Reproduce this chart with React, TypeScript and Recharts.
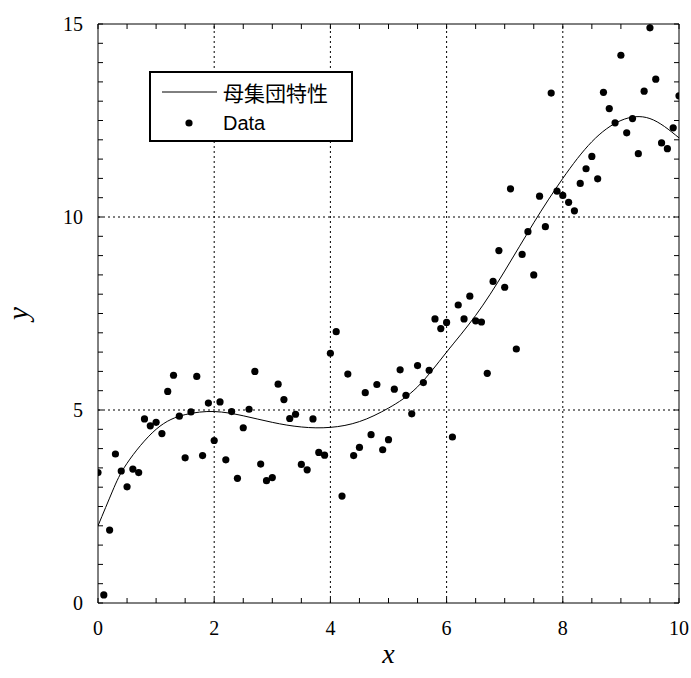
import React from 'react';
import { ComposedChart, XAxis, YAxis, Line, Scatter, ReferenceLine, Legend } from 'recharts';

const sampleX = [
  0, 0.1, 0.2, 0.3, 0.4, 0.5, 0.6, 0.7, 0.8, 0.9,
  1, 1.1, 1.2, 1.3, 1.4, 1.5, 1.6, 1.7, 1.8, 1.9,
  2, 2.1, 2.2, 2.3, 2.4, 2.5, 2.6, 2.7, 2.8, 2.9,
  3, 3.1, 3.2, 3.3, 3.4, 3.5, 3.6, 3.7, 3.8, 3.9,
  4, 4.1, 4.2, 4.3, 4.4, 4.5, 4.6, 4.7, 4.8, 4.9,
  5, 5.1, 5.2, 5.3, 5.4, 5.5, 5.6, 5.7, 5.8, 5.9,
  6, 6.1, 6.2, 6.3, 6.4, 6.5, 6.6, 6.7, 6.8, 6.9,
  7, 7.1, 7.2, 7.3, 7.4, 7.5, 7.6, 7.7, 7.8, 7.9,
  8, 8.1, 8.2, 8.3, 8.4, 8.5, 8.6, 8.7, 8.8, 8.9,
  9, 9.1, 9.2, 9.3, 9.4, 9.5, 9.6, 9.7, 9.8, 9.9,
  10,
];

const sampleY = [
  3.38, 0.21, 1.89, 3.86, 3.42, 3.01, 3.47, 3.38, 4.77, 4.59,
  4.68, 4.39, 5.48, 5.9, 4.84, 3.76, 4.95, 5.87, 3.82, 5.18,
  4.21, 5.21, 3.71, 4.96, 3.23, 4.54, 5.02, 6.0, 3.6, 3.17,
  3.25, 5.67, 5.27, 4.78, 4.89, 3.59, 3.45, 4.77, 3.9, 3.83,
  6.47, 7.03, 2.77, 5.93, 3.82, 4.03, 5.45, 4.36, 5.66, 3.97,
  4.23, 5.54, 6.04, 5.38, 4.9, 6.15, 5.71, 6.03, 7.36, 7.11,
  7.27, 4.3, 7.72, 7.36, 7.95, 7.31, 7.28, 5.95, 8.33, 9.13,
  8.18, 10.73, 6.58, 9.03, 9.62, 8.5, 10.54, 9.75, 13.21, 10.67,
  10.56, 10.38, 10.16, 10.87, 11.25, 11.57, 10.99, 13.23, 12.81, 12.44,
  14.19, 12.18, 12.55, 11.64, 13.26, 14.9, 13.57, 11.92, 11.77, 12.31,
  13.14,
];

const curveX = [0, 0.25, 0.5, 1, 1.5, 2, 2.5, 3, 3.5, 4, 4.5, 5, 5.5, 6, 6.5, 7, 7.5, 8, 8.5, 9, 9.5, 10];
const curveY = [2.0, 2.9, 3.62, 4.5, 4.88, 4.96, 4.85, 4.68, 4.56, 4.55, 4.7, 5.05, 5.6, 6.5, 7.45, 8.6, 9.85, 11.0, 11.95, 12.5, 12.55, 12.05];

const xTicks = [0, 0.5, 1, 1.5, 2, 2.5, 3, 3.5, 4, 4.5, 5, 5.5, 6, 6.5, 7, 7.5, 8, 8.5, 9, 9.5, 10];
const yTicks = [0, 0.5, 1, 1.5, 2, 2.5, 3, 3.5, 4, 4.5, 5, 5.5, 6, 6.5, 7, 7.5, 8, 8.5, 9, 9.5, 10,
  10.5, 11, 11.5, 12, 12.5, 13, 13.5, 14, 14.5, 15];
const xLabelTicks = [0, 2, 4, 6, 8, 10];
const yLabelTicks = [0, 5, 10, 15];
const xGrid = [2, 4, 6, 8];
const yGrid = [5, 10];
const curveName = '母集団特性';
const dataName = 'Data';
const xTitle = 'x';
const yTitle = 'y';

const points = sampleX.map((x, i) => ({ x, y: sampleY[i] }));
const curve = curveX.map((x, i) => ({ x, y: curveY[i] }));

const SERIF = '"Liberation Serif", "Times New Roman", serif';
const TL = 5;

const BottomTick = (p: any) => {
  const { x, y, payload } = p;
  const v = payload.value;
  return (
    <g>
      <line x1={x} y1={y} x2={x} y2={y - TL} stroke="#000" strokeWidth={1} />
      {xLabelTicks.includes(v) && (
        <text x={x} y={y + 32} textAnchor="middle" fontFamily={SERIF} fontSize={20} fill="#000">{v}</text>
      )}
    </g>
  );
};

const TopTick = (p: any) => {
  const { x, y } = p;
  return <line x1={x} y1={y} x2={x} y2={y + TL} stroke="#000" strokeWidth={1} />;
};

const LeftTick = (p: any) => {
  const { x, y, payload } = p;
  const v = payload.value;
  return (
    <g>
      <line x1={x} y1={y} x2={x + TL} y2={y} stroke="#000" strokeWidth={1} />
      {yLabelTicks.includes(v) && (
        <text x={x - 15} y={y + 7} textAnchor="end" fontFamily={SERIF} fontSize={20} fill="#000">{v}</text>
      )}
    </g>
  );
};

const RightTick = (p: any) => {
  const { x, y } = p;
  return <line x1={x} y1={y} x2={x - TL} y2={y} stroke="#000" strokeWidth={1} />;
};

const XTitle = (props: any) => {
  const vb = props.viewBox || { x: 98, y: 603, width: 581, height: 30 };
  return (
    <text x={vb.x + vb.width / 2} y={vb.y + 60} textAnchor="middle" fontFamily={SERIF}
      fontStyle="italic" fontSize={28} fill="#000">{xTitle}</text>
  );
};

const YTitle = (props: any) => {
  const vb = props.viewBox || { x: 58, y: 24, width: 40, height: 579 };
  const cx = vb.x + vb.width - 70;
  const cy = vb.y + vb.height / 2;
  return (
    <text x={cx} y={cy} transform={`rotate(-90 ${cx} ${cy})`} textAnchor="middle" fontFamily={SERIF}
      fontStyle="italic" fontSize={29} fill="#000">{yTitle}</text>
  );
};

const LegendBox = () => (
  <div style={{ width: 204, height: 71, border: '2px solid #000', boxSizing: 'border-box', background: '#fff' }}>
    <svg width={200} height={67} style={{ display: 'block' }}>
      <line x1={11} y1={19} x2={66} y2={19} stroke="#000" strokeWidth={1} />
      <text x={72} y={19} dominantBaseline="central" fontFamily='"Noto Sans CJK JP", sans-serif' fontSize={21} fill="#000">{curveName}</text>
      <circle cx={38} cy={50} r={3.6} fill="#000" />
      <text x={72} y={50} dominantBaseline="central" fontFamily='"Liberation Sans", Arial, sans-serif' fontSize={20} fill="#000">{dataName}</text>
    </svg>
  </div>
);

const Dot = (p: any) => <circle cx={p.cx} cy={p.cy} r={3.6} fill="#000" />;

export default function App() {
  return (
    <div style={{ position: 'absolute', left: 0, top: 0, width: 691, height: 678, background: '#fff' }}>
      <ComposedChart width={691} height={678} margin={{ top: 23, right: 11, left: 58, bottom: 45 }}>
        <XAxis xAxisId={0} dataKey="x" type="number" domain={[0, 10]} ticks={xTicks} interval={0}
          allowDataOverflow height={30} tickSize={0} tickMargin={0} tickLine={false}
          axisLine={{ stroke: '#000', strokeWidth: 1 }} tick={<BottomTick />} label={<XTitle />} />
        <XAxis xAxisId="top" orientation="top" dataKey="x" type="number" domain={[0, 10]} ticks={xTicks} interval={0}
          allowDataOverflow height={1} tickSize={0} tickMargin={0} tickLine={false}
          axisLine={{ stroke: '#000', strokeWidth: 1 }} tick={<TopTick />} />
        <YAxis yAxisId={0} dataKey="y" type="number" domain={[0, 15]} ticks={yTicks} interval={0}
          allowDataOverflow width={40} tickSize={0} tickMargin={0} tickLine={false}
          axisLine={{ stroke: '#000', strokeWidth: 1 }} tick={<LeftTick />} label={<YTitle />} />
        <YAxis yAxisId="right" orientation="right" dataKey="y" type="number" domain={[0, 15]} ticks={yTicks} interval={0}
          allowDataOverflow width={1} tickSize={0} tickMargin={0} tickLine={false}
          axisLine={{ stroke: '#000', strokeWidth: 1 }} tick={<RightTick />} />
        {xGrid.map((v) => (
          <ReferenceLine key={`gx${v}`} x={v} xAxisId={0} yAxisId={0} stroke="#000" strokeWidth={1} strokeDasharray="2 3" />
        ))}
        {yGrid.map((v) => (
          <ReferenceLine key={`gy${v}`} y={v} xAxisId={0} yAxisId={0} stroke="#000" strokeWidth={1} strokeDasharray="2 3" />
        ))}
        <Line data={curve} dataKey="y" xAxisId={0} yAxisId={0} type="natural" stroke="#000" strokeWidth={1}
          dot={false} activeDot={false} isAnimationActive={false} name={curveName} />
        <Scatter data={points} dataKey="y" xAxisId={0} yAxisId={0} shape={<Dot />} isAnimationActive={false} name={dataName} />
        <Legend layout="vertical" align="center" verticalAlign="middle" content={<LegendBox />}
          wrapperStyle={{ left: 149, top: 71, width: 204, height: 71 }} />
      </ComposedChart>
    </div>
  );
}
